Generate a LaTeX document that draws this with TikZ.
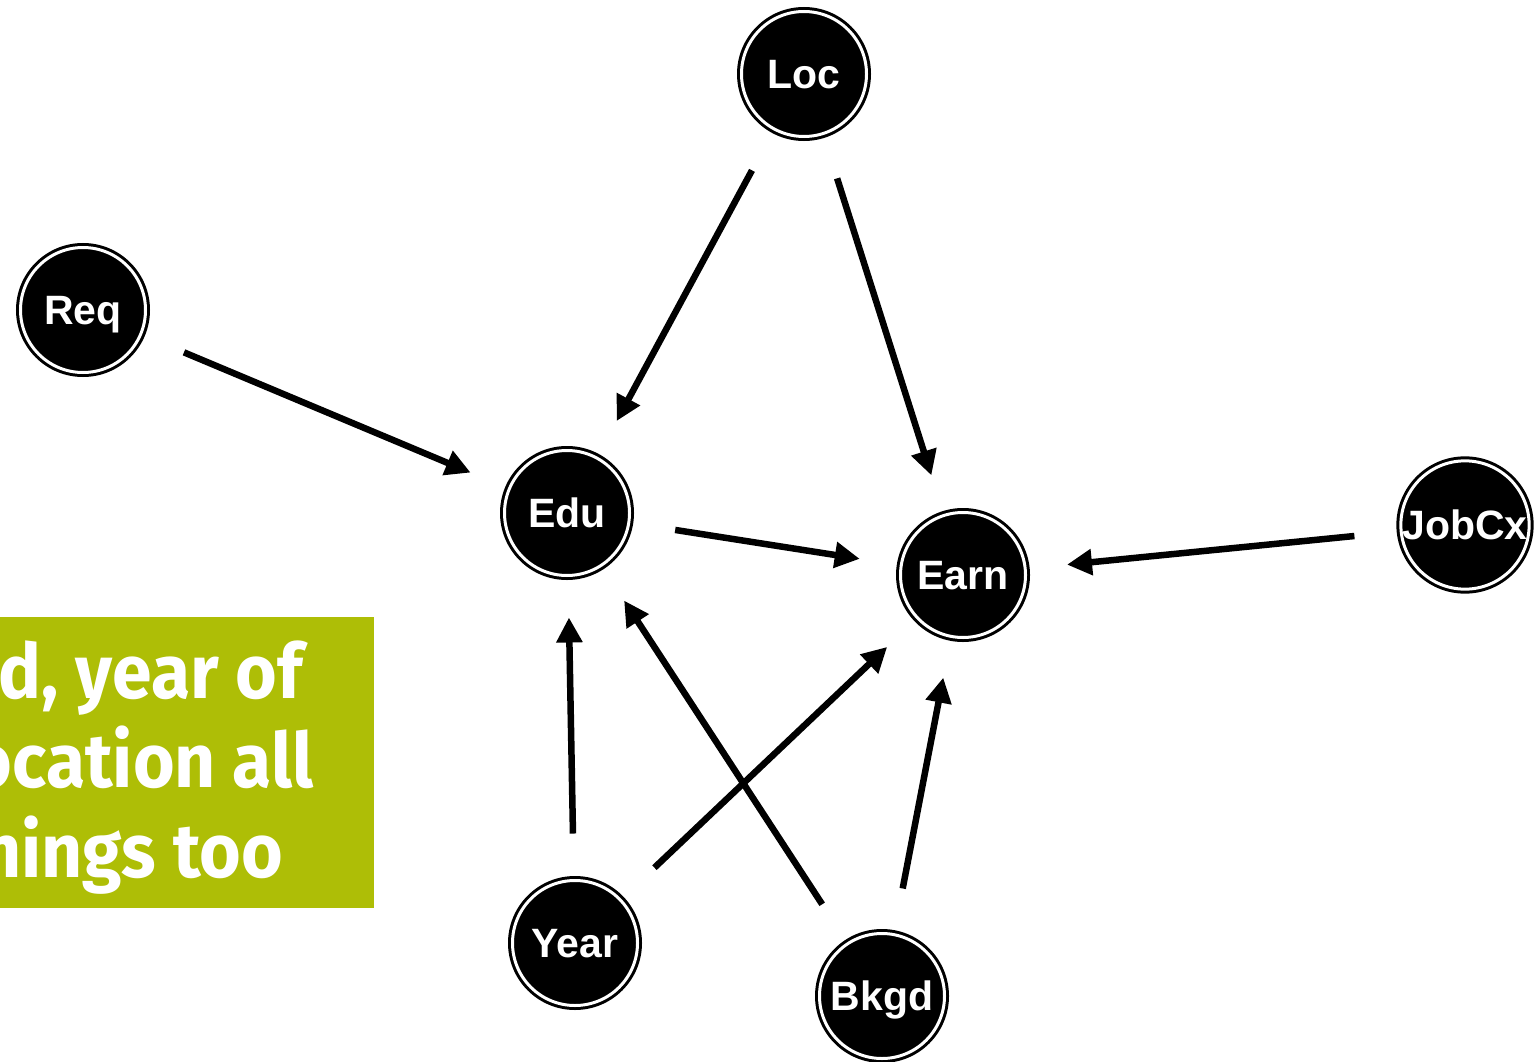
\documentclass[tikz,border=0pt]{standalone}
\usepackage{fontspec}
\setmainfont{Liberation Sans}
\newfontfamily\notefont{Fira Sans}
\usetikzlibrary{arrows.meta}
\definecolor{notegreen}{RGB}{174,190,6}
\begin{document}
\begin{tikzpicture}[x=1pt,y=-1pt,
  var/.style={circle, fill=black, draw=black, double=white, double distance=3pt,
    line width=3pt, minimum size=125pt, inner sep=0pt, outer sep=0pt,
    text height=29.4pt, text depth=0pt,
    text=white, font=\fontsize{41}{41}\selectfont\bfseries},
  edge/.style={line width=6.5pt, -{Triangle[length=25pt,width=25pt]},
    shorten <=47pt, shorten >=42pt},
  noteline/.style={anchor=base east, inner sep=0pt, text=white,
    xscale=0.94, transform shape,
    font=\notefont\fontsize{76}{76}\selectfont\bfseries}]
\useasboundingbox (0,0) rectangle (1534,1062);

% side note box, its text running off the left edge
\fill[notegreen] (0,617) rectangle (374,908);
\begin{scope}
  \clip (0,617) rectangle (374,908);
  \node[noteline] (n1) at (303,698) {d, year of};
  \node[noteline] (n2) at (314,787) {ocation all};
  \node[noteline] (n3) at (283,877) {nings too};
\end{scope}

% variables
\node[var] (loc)  at (804,74)   {Loc};
\node[var] (req)  at (83,310)   {Req};
\node[var] (edu)  at (567,513)  {Edu};
\node[var] (earn) at (963,575)  {Earn};
\node[var] (job)  at (1465,525) {JobCx};
\node[var] (year) at (575,943)  {Year};
\node[var] (bkgd) at (882,996)  {Bkgd};

% causal arrows
\draw[edge] (loc)  -- (edu);
\draw[edge] (loc)  -- (earn);
\draw[edge] (req)  -- (edu);
\draw[edge] (edu)  -- (earn);
\draw[edge] (job)  -- (earn);
\draw[edge] (year) -- (edu);
\draw[edge] (year) -- (earn);
\draw[edge] (bkgd) -- (edu);
\draw[edge] (bkgd) -- (earn);
\end{tikzpicture}
\end{document}
